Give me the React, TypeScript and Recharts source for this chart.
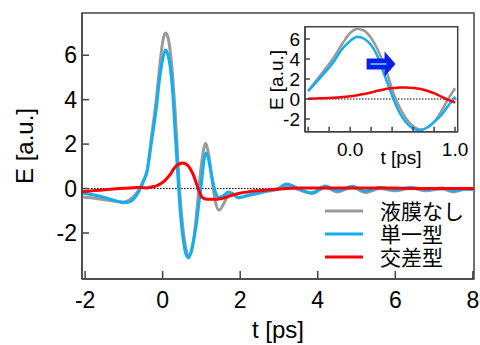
import { LineChart, Line, XAxis, YAxis, ReferenceLine, ReferenceArea, ReferenceDot, Legend } from "recharts"

// time axis [ps] and the three waveforms
const time = [
  -2.08, -1.8, -1.5, -1.2, -1.0, -0.85, -0.72, -0.6, -0.5, -0.4,
  -0.29, -0.165, -0.07, 0.0, 0.07, 0.13, 0.2, 0.26, 0.32, 0.37,
  0.42, 0.47, 0.53, 0.6, 0.67, 0.74, 0.8, 0.87, 0.94, 1.0,
  1.06, 1.11, 1.18, 1.26, 1.35, 1.45, 1.57, 1.7, 1.82, 1.96,
  2.2, 2.45, 2.7, 2.95, 3.2, 3.5, 3.85, 4.2, 4.5, 4.9,
  5.23, 5.6, 6.0, 6.4, 6.8, 7.2, 7.5, 7.8, 8.03,
]
const noFilm = [
  -0.38, -0.43, -0.5, -0.58, -0.6, -0.5, -0.3, -0.02, 0.35, 0.8,
  2.3, 4.0, 5.6, 6.6, 7.0, 6.85, 6.1, 5.0, 3.5, 2.0,
  0.4, -0.8, -1.9, -2.7, -3.05, -2.85, -2.3, -1.2, 0.1, 1.07,
  1.8, 2.04, 1.6, 0.6, -0.5, -0.97, -0.7, -0.3, -0.28, -0.42,
  -0.33, -0.22, -0.12, -0.05, 0.12, -0.05, -0.22, 0.05, -0.15, 0.05,
  -0.18, 0.0, -0.1, 0.02, -0.1, -0.02, -0.15, -0.03, -0.05,
]
const single = [
  -0.2, -0.28, -0.4, -0.56, -0.64, -0.6, -0.42, -0.08, 0.3, 0.8,
  2.07, 3.6, 5.07, 5.8, 6.23, 6.05, 5.4, 4.3, 2.6, 1.2,
  -0.2, -1.35, -2.3, -2.95, -3.12, -2.8, -2.3, -1.6, -0.6, 0.23,
  1.2, 1.6, 1.35, 0.6, -0.1, -0.4, -0.32, -0.15, -0.25, -0.4,
  -0.3, -0.2, -0.1, -0.02, 0.2, 0.0, -0.19, 0.11, -0.1, 0.1,
  -0.12, 0.05, -0.05, 0.05, -0.05, 0.02, -0.1, -0.02, -0.03,
]
const cross = [
  -0.15, -0.1, -0.05, -0.01, 0.01, 0.03, 0.04, 0.05, 0.04, 0.03,
  0.07, 0.12, 0.2, 0.28, 0.38, 0.5, 0.65, 0.82, 0.96, 1.05,
  1.1, 1.14, 1.15, 1.1, 1.0, 0.8, 0.58, 0.23, -0.12, -0.35,
  -0.44, -0.47, -0.48, -0.48, -0.48, -0.47, -0.43, -0.35, -0.28, -0.22,
  -0.15, -0.1, -0.06, -0.03, 0.0, 0.02, 0.03, 0.03, 0.03, 0.03,
  0.02, 0.02, 0.02, 0.0, 0.0, 0.0, 0.0, 0.0, 0.0,
]

const seriesKeys = ["noFilm", "single", "cross"]
const seriesNames = ["液膜なし", "単一型", "交差型"]
const seriesColors = ["#9a9a9a", "#12aef2", "#ff0000"]

const mainTicksX = [-2, 0, 2, 4, 6, 8]
const mainTicksY = [-2, 0, 2, 4, 6]
const insetTicksX = [-0.4, -0.2, 0, 0.2, 0.4, 0.6, 0.8, 1.0]
const insetTicksY = [-2, 0, 2, 4, 6]
const insetLabeledX = [0, 1.0]

const rows = time.map((t, i) => ({ t, noFilm: noFilm[i], single: single[i], cross: cross[i] }))
const insetRows = rows.filter((r) => r.t >= -0.4 && r.t <= 1.0)

const FONT = "'Liberation Sans', Arial, sans-serif"
const CJK = "'Liberation Sans', 'Noto Sans CJK JP', sans-serif"
const AXIS = "#444"

// axis title at a fixed spot (px/py so recharts' injected x/y don't move it)
function Title({ px, py, text, size, rotate }: { px: number; py: number; text: string; size: number; rotate?: boolean }) {
  return (
    <text
      x={px}
      y={py}
      textAnchor="middle"
      fontSize={size}
      fontFamily={FONT}
      fill="#000"
      transform={rotate ? `rotate(-90 ${px} ${py})` : undefined}
    >
      {text}
    </text>
  )
}

// blue arrow drawn around the anchor point of a ReferenceDot
function Arrow(props: any) {
  const { cx, cy } = props
  return (
    <g>
      <rect x={cx - 14} y={cy - 5.5} width={19} height={11} fill="#0b1ee8" />
      <polygon points={`${cx + 4},${cy - 12.5} ${cx + 15},${cy} ${cx + 4},${cy + 12.5}`} fill="#0b1ee8" />
      <line x1={cx - 10} y1={cy} x2={cx + 6} y2={cy} stroke="#3fb4ff" strokeWidth={2} />
    </g>
  )
}

const renderLegend = () => (
  <div>
    {seriesNames.map((name, i) => (
      <div key={name} style={{ display: "flex", alignItems: "center", height: 23 }}>
        <svg width={38} height={4}>
          <line x1={0} y1={2} x2={38} y2={2} stroke={seriesColors[i]} strokeWidth={3} />
        </svg>
        <span style={{ marginLeft: 17, fontSize: 21, fontFamily: CJK, color: "#000", lineHeight: "23px" }}>{name}</span>
      </div>
    ))}
  </div>
)

export default function App() {
  return (
    <div style={{ position: "absolute", left: 0, top: 0, width: 480, height: 345, background: "#fff", fontFamily: FONT }}>
      <LineChart width={480} height={345} data={rows} margin={{ top: 13, right: 6, bottom: 0, left: 0 }}>
        <XAxis
          dataKey="t"
          type="number"
          domain={[-2.08, 8.03]}
          ticks={mainTicksX}
          interval={0}
          allowDataOverflow
          height={66}
          tickSize={-8}
          tickMargin={21}
          stroke={AXIS}
          strokeWidth={1.5}
          tick={{ fill: "#000", fontSize: 23, fontFamily: FONT }}
          label={<Title px={278} py={338} text="t [ps]" size={24} />}
        />
        <YAxis
          type="number"
          domain={[-4.07, 7.9]}
          ticks={mainTicksY}
          interval={0}
          allowDataOverflow
          width={82}
          tickSize={-7}
          tickMargin={12}
          stroke={AXIS}
          strokeWidth={1.5}
          tick={{ fill: "#000", fontSize: 23, fontFamily: FONT }}
          label={<Title px={33} py={146} text="E [a.u.]" size={24} rotate />}
        />
        <ReferenceArea x1={-2.08} x2={8.03} y1={-4.07} y2={7.9} fill="none" stroke={AXIS} strokeWidth={1.5} />
        <ReferenceLine y={0} stroke="#000" strokeDasharray="1.5 1.5" strokeWidth={1} />
        {seriesKeys.map((k, i) => (
          <Line
            key={k}
            dataKey={k}
            name={seriesNames[i]}
            type="monotone"
            stroke={seriesColors[i]}
            strokeWidth={3}
            dot={false}
            isAnimationActive={false}
          />
        ))}
        <Legend
          layout="vertical"
          align="center"
          verticalAlign="middle"
          content={renderLegend}
          wrapperStyle={{ left: 325, top: 199.5, width: 150 }}
        />
      </LineChart>

      <div style={{ position: "absolute", left: 250, top: 20 }}>
        <LineChart width={230} height={160} data={insetRows} margin={{ top: 6.7, right: 22.3, bottom: 0, left: 0 }}>
          <XAxis
            dataKey="t"
            type="number"
            domain={[-0.43, 1.025]}
            ticks={insetTicksX}
            interval={0}
            allowDataOverflow
            height={48.3}
            tickSize={-5}
            tickMargin={16}
            stroke={AXIS}
            strokeWidth={1.5}
            tick={{ fill: "#000", fontSize: 19, fontFamily: FONT }}
            tickFormatter={(v: number) => (insetLabeledX.includes(v) ? v.toFixed(1) : "")}
            label={<Title px={151} py={144} text="t [ps]" size={19} />}
          />
          <YAxis
            type="number"
            domain={[-3.27, 7.23]}
            ticks={insetTicksY}
            interval={0}
            allowDataOverflow
            width={55}
            tickSize={-5}
            tickMargin={10}
            stroke={AXIS}
            strokeWidth={1.5}
            tick={{ fill: "#000", fontSize: 19, fontFamily: FONT }}
            label={<Title px={33} py={60} text="E [a.u.]" size={19} rotate />}
          />
          <ReferenceArea x1={-0.43} x2={1.025} y1={-3.27} y2={7.23} fill="none" stroke={AXIS} strokeWidth={1.5} />
          <ReferenceLine y={0} stroke="#000" strokeDasharray="1.5 1.5" strokeWidth={1} />
          {seriesKeys.map((k, i) => (
            <Line
              key={k}
              dataKey={k}
              type="monotone"
              stroke={seriesColors[i]}
              strokeWidth={2.5}
              dot={false}
              isAnimationActive={false}
            />
          ))}
          <ReferenceDot x={0.29} y={3.5} r={0} shape={<Arrow />} />
        </LineChart>
      </div>
    </div>
  )
}
